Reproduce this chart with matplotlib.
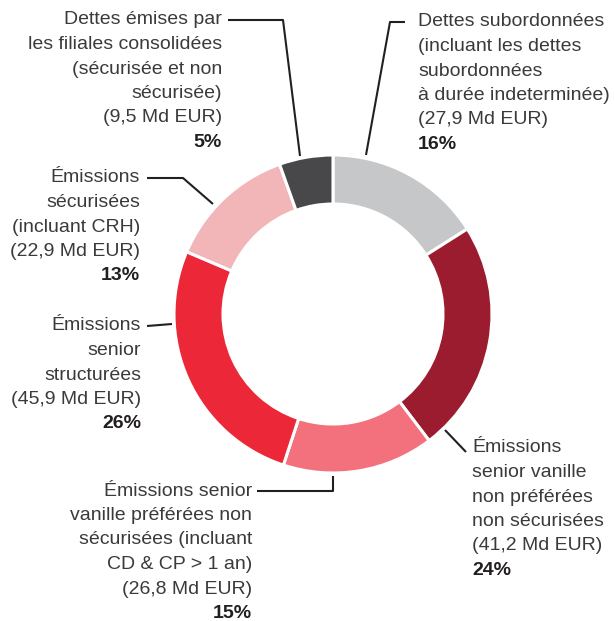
import matplotlib.pyplot as plt

# data, clockwise from the top
labels = [
    ["Dettes subordonnées", "(incluant les dettes", "subordonnées",
     "à durée indeterminée)", "(27,9 Md EUR)"],
    ["Émissions", "senior vanille", "non préférées", "non sécurisées",
     "(41,2 Md EUR)"],
    ["Émissions senior", "vanille préférées non", "sécurisées (incluant",
     "CD & CP > 1 an)", "(26,8 Md EUR)"],
    ["Émissions", "senior", "structurées", "(45,9 Md EUR)"],
    ["Émissions", "sécurisées", "(incluant CRH)", "(22,9 Md EUR)"],
    ["Dettes émises par", "les filiales consolidées", "(sécurisée et non",
     "sécurisée)", "(9,5 Md EUR)"],
]
amounts = [27.9, 41.2, 26.8, 45.9, 22.9, 9.5]
percents = ["16%", "24%", "15%", "26%", "13%", "5%"]
colors = ["#c6c7c9", "#9b1c2e", "#f3717d", "#ec2738", "#f2b5b8", "#48484a"]

W, H = 614, 621
fig = plt.figure(figsize=(W / 100, H / 100), dpi=100)
ax = fig.add_axes([0, 0, 1, 1])
ax.set_xlim(0, W)
ax.set_ylim(H, 0)
ax.set_aspect("equal")
ax.axis("off")

cx, cy, r = 333, 314, 159
# y axis is inverted, so counterclock=True draws clockwise on screen
ax.pie(amounts, colors=colors, startangle=-90, counterclock=True,
       center=(cx, cy), radius=r, frame=True,
       wedgeprops=dict(width=49, edgecolor="white", linewidth=2.2))
ax.set_xlim(0, W)
ax.set_ylim(H, 0)
ax.axis("off")

font = "Liberation Sans"
fs = 14
step = 24.5
tc = "#3a3a3a"

# (x, first line y, alignment) for each label
places = [
    (418, 22, "left"),
    (472, 448, "left"),
    (252, 491, "right"),
    (141, 326, "right"),
    (140, 178, "right"),
    (222, 20, "right"),
]
for lines, pct, (x, y0, ha) in zip(labels, percents, places):
    for i, line in enumerate(lines):
        ax.text(x, y0 + i * step, line, ha=ha, va="center", fontsize=fs,
                family=font, color=tc)
    ax.text(x, y0 + len(lines) * step, pct, ha=ha, va="center", fontsize=fs,
            family=font, color="#231f20", fontweight="bold")

# leader lines
leaders = [
    ([405, 390, 366], [22, 22, 155]),
    ([445, 466], [430, 452]),
    ([257, 333, 333], [491, 491, 476]),
    ([147, 172], [326, 324]),
    ([147, 183, 213], [178, 178, 204]),
    ([228, 283, 300], [20, 20, 156]),
]
for xs, ys in leaders:
    ax.plot(xs, ys, color="#231f20", lw=1.5, solid_capstyle="butt")

fig.savefig("out.png", dpi=100)
